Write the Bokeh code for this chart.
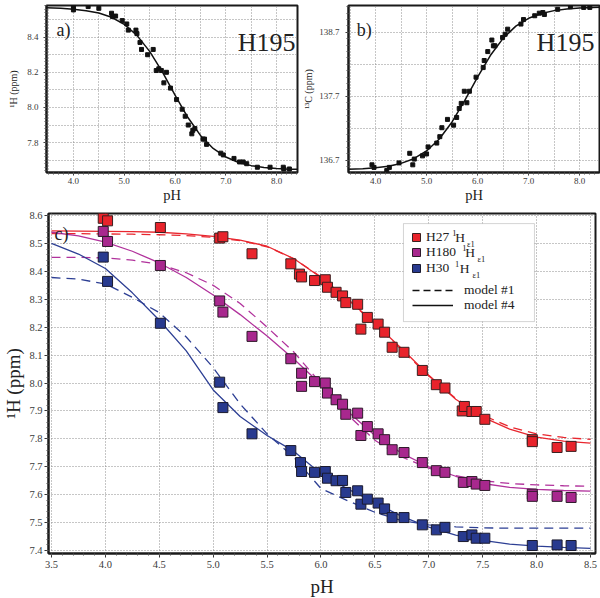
from bokeh.plotting import figure
from bokeh.layouts import column, row
from bokeh.models import (Range1d, FixedTicker, PrintfTickFormatter, Label, Legend,
                          LegendItem, BoxAnnotation)
from bokeh.core.properties import value
from bokeh.embed import file_html
from bokeh.resources import INLINE

FONT = "Liberation Serif"
NAN = float("nan")

# ---------------- panel a) H195 1H ----------------
ph_a = [4.00, 4.00, 4.29, 4.50, 4.75, 4.77, 4.83, 4.96, 5.05, 5.08, 5.23, 5.25, 5.31, 5.34, 5.46,
        5.57, 5.63, 5.68, 5.73, 5.78, 5.83, 5.91, 6.03, 6.14, 6.20, 6.26, 6.33, 6.35, 6.39, 6.55,
        6.58, 6.62, 6.90, 6.95, 7.16, 7.27, 7.34, 7.41, 7.62, 7.87, 8.13, 8.14, 8.25]
h_a = [8.570, 8.555, 8.574, 8.564, 8.536, 8.517, 8.520, 8.494, 8.475, 8.440, 8.440, 8.420, 8.370,
       8.330, 8.300, 8.330, 8.210, 8.220, 8.210, 8.140, 8.200, 8.110, 8.045, 7.990, 7.950, 7.900,
       7.850, 7.870, 7.880, 7.820, 7.820, 7.790, 7.740, 7.730, 7.710, 7.690, 7.690, 7.680, 7.660,
       7.660, 7.660, 7.650, 7.650]
fit_ph_ab = [3.45, 3.75, 4.0, 4.25, 4.5, 4.75, 5.0, 5.25, 5.5, 5.75, 6.0, 6.25, 6.5, 6.75, 7.0,
             7.25, 7.5, 7.75, 8.0, 8.25, 8.45]
fit_a = [8.567, 8.564, 8.559, 8.550, 8.537, 8.513, 8.473, 8.410, 8.319, 8.202, 8.070, 7.944,
         7.841, 7.767, 7.718, 7.687, 7.669, 7.659, 7.653, 7.649, 7.648]

# ---------------- panel b) H195 13C ----------------
ph_b = [3.93, 3.97, 4.22, 4.27, 4.46, 4.67, 4.73, 4.76, 4.92, 5.00, 5.03, 5.20, 5.26, 5.30, 5.41,
        5.53, 5.59, 5.64, 5.68, 5.74, 5.79, 5.84, 5.97, 6.11, 6.13, 6.20, 6.28, 6.31, 6.34, 6.49,
        6.54, 6.59, 6.85, 6.90, 7.12, 7.21, 7.28, 7.31, 7.57, 7.82, 8.08, 8.20]
c_b = [136.63, 136.59, 136.54, 136.59, 136.66, 136.81, 136.63, 136.72, 136.77, 136.80, 136.91,
       136.97, 137.07, 137.21, 137.34, 137.25, 137.37, 137.51, 137.59, 137.78, 137.60, 137.78,
       138.00, 138.15, 138.26, 138.40, 138.58, 138.49, 138.49, 138.62, 138.67, 138.75, 138.83,
       138.90, 138.96, 139.00, 139.01, 138.98, 139.06, 139.10, 139.09, 139.09]
fit_b = [136.559, 136.569, 136.583, 136.608, 136.652, 136.726, 136.847, 137.034, 137.300,
         137.636, 138.000, 138.338, 138.607, 138.797, 138.920, 138.995, 139.040, 139.066,
         139.081, 139.089, 139.093]

# ---------------- panel c) three histidines ----------------
ph_h27 = [3.98, 4.02, 4.51, 5.06, 5.09, 5.36, 5.72, 5.80, 5.82, 5.94, 6.04, 6.06, 6.14, 6.20,
          6.23, 6.34, 6.37, 6.43, 6.53, 6.59, 6.66, 6.77, 6.94, 7.07, 7.15, 7.31, 7.33, 7.40,
          7.44, 7.52, 7.96, 7.96, 8.19, 8.32]
h27 = [8.590, 8.581, 8.557, 8.519, 8.524, 8.463, 8.427, 8.390, 8.380, 8.367, 8.370, 8.343, 8.325,
       8.312, 8.288, 8.282, 8.193, 8.235, 8.211, 8.182, 8.128, 8.110, 8.045, 7.994, 7.982, 7.900,
       7.916, 7.898, 7.898, 7.870, 7.797, 7.790, 7.769, 7.773]
ph_h180 = [3.98, 4.02, 4.51, 5.06, 5.09, 5.36, 5.72, 5.82, 5.82, 5.94, 6.04, 6.06, 6.14, 6.20,
           6.23, 6.34, 6.37, 6.43, 6.53, 6.59, 6.66, 6.77, 6.94, 7.07, 7.15, 7.32, 7.40, 7.44,
           7.52, 7.96, 7.96, 8.19, 8.32]
h180 = [8.543, 8.507, 8.421, 8.294, 8.254, 8.167, 8.087, 8.035, 7.988, 8.005, 8.000, 7.964,
        7.940, 7.924, 7.888, 7.892, 7.812, 7.844, 7.818, 7.797, 7.761, 7.751, 7.715, 7.686,
        7.680, 7.644, 7.647, 7.638, 7.633, 7.602, 7.594, 7.594, 7.590]
ph_h30 = [3.98, 4.02, 4.51, 5.06, 5.09, 5.36, 5.72, 5.81, 5.82, 5.94, 6.04, 6.06, 6.14, 6.20,
          6.23, 6.34, 6.37, 6.43, 6.53, 6.59, 6.66, 6.77, 6.94, 7.07, 7.15, 7.32, 7.40, 7.44,
          7.52, 7.96, 8.19, 8.32]
h30 = [8.451, 8.364, 8.214, 8.003, 7.912, 7.818, 7.758, 7.715, 7.683, 7.680, 7.683, 7.659, 7.650,
       7.651, 7.608, 7.614, 7.566, 7.584, 7.570, 7.549, 7.518, 7.518, 7.492, 7.474, 7.483, 7.450,
       7.456, 7.444, 7.444, 7.418, 7.420, 7.418]

fit_ph_c = [3.5, 3.75, 4.0, 4.25, 4.5, 4.75, 5.0, 5.25, 5.5, 5.75, 6.0, 6.25, 6.5, 6.75, 7.0,
            7.25, 7.5, 7.75, 8.0, 8.25, 8.5]
h27_m4 = [8.545, 8.544, 8.543, 8.542, 8.540, 8.534, 8.525, 8.512, 8.490, 8.445, 8.378, 8.300,
          8.213, 8.123, 8.028, 7.942, 7.878, 7.835, 7.806, 7.792, 7.785]
h27_m1 = [8.535, 8.535, 8.534, 8.533, 8.531, 8.528, 8.522, 8.510, 8.488, 8.445, 8.380, 8.300,
          8.210, 8.118, 8.025, 7.945, 7.885, 7.843, 7.818, 7.805, 7.798]
h180_m4 = [8.540, 8.527, 8.505, 8.472, 8.430, 8.378, 8.315, 8.245, 8.168, 8.085, 7.995, 7.898,
           7.812, 7.748, 7.700, 7.666, 7.640, 7.626, 7.619, 7.615, 7.613]
h180_m1 = [8.450, 8.450, 8.448, 8.440, 8.425, 8.395, 8.350, 8.285, 8.200, 8.110, 7.998, 7.885,
           7.795, 7.735, 7.695, 7.668, 7.650, 7.640, 7.635, 7.632, 7.630]
h30_m4 = [8.500, 8.462, 8.410, 8.323, 8.225, 8.115, 7.975, 7.880, 7.812, 7.755, 7.675, 7.620,
          7.572, 7.522, 7.484, 7.455, 7.436, 7.423, 7.416, 7.411, 7.408]
h30_m1 = [8.378, 8.372, 8.355, 8.307, 8.252, 8.165, 8.055, 7.925, 7.818, 7.733, 7.622, 7.578,
          7.537, 7.507, 7.492, 7.485, 7.481, 7.480, 7.480, 7.480, 7.480]

# ticks
xt_ab = [4.0, 5.0, 6.0, 7.0, 8.0]
xgrid_ab = [3.5, 4.0, 4.5, 5.0, 5.5, 6.0, 6.5, 7.0, 7.5, 8.0]
yt_a = [7.8, 8.0, 8.2, 8.4]
ygrid_a = [7.7, 7.8, 7.9, 8.0, 8.1, 8.2, 8.3, 8.4, 8.5]
yt_b = [136.7, 137.7, 138.7]
ygrid_b = [136.7, 137.2, 137.7, 138.2, 138.7]
xt_c = [3.5, 4.0, 4.5, 5.0, 5.5, 6.0, 6.5, 7.0, 7.5, 8.0, 8.5]
yt_c = [7.4, 7.5, 7.6, 7.7, 7.8, 7.9, 8.0, 8.1, 8.2, 8.3, 8.4, 8.5, 8.6]

legend_labels = ["H27", "H180", "H30"]
legend_sup = "1"
legend_nuc = "H"
legend_sub = "\u03b51"
model_labels = ["model #1", "model #4"]

RED, MAG, BLUE = "#e8232b", "#a8288e", "#283a8f"
RED_L, MAG_L, BLUE_L = "#e8262e", "#b1329c", "#2d3f94"


def minor(lo, hi, step):
    n = int(round((hi - lo) / step))
    return [round(lo + i * step, 3) for i in range(n + 1)]


def style(p, xt, xmin, xg, yt, ymin, yg, tick_fs, xl_fs, yl_fs, xstand, ystand, xls, yls, tick_out):
    p.xaxis.ticker = FixedTicker(ticks=xt, minor_ticks=xmin)
    p.yaxis.ticker = FixedTicker(ticks=yt, minor_ticks=ymin)
    p.xgrid.ticker = FixedTicker(ticks=xg)
    p.ygrid.ticker = FixedTicker(ticks=yg)
    p.xaxis.formatter = PrintfTickFormatter(format="%.1f")
    p.yaxis.formatter = PrintfTickFormatter(format="%.1f")
    for g in (p.xgrid[0], p.ygrid[0]):
        g.grid_line_color = "#8c8c8c"
        g.grid_line_dash = "1 2"
        g.grid_line_width = 1
    for ax, fs, st, ls in ((p.xaxis[0], xl_fs, xstand, xls), (p.yaxis[0], yl_fs, ystand, yls)):
        ax.axis_line_color = "#1a1a1a"
        ax.axis_line_width = 2
        ax.major_tick_line_color = "#333333"
        ax.minor_tick_line_color = "#555555"
        ax.major_tick_in = 0
        ax.major_tick_out = tick_out
        ax.minor_tick_in = 0
        ax.minor_tick_out = 2
        ax.major_label_text_font = FONT
        ax.major_label_text_font_size = tick_fs
        ax.major_label_text_color = "#3a3a3a"
        ax.major_label_standoff = st
        ax.axis_label_text_font = FONT
        ax.axis_label_text_font_style = "normal"
        ax.axis_label_text_font_size = fs
        ax.axis_label_text_color = "#222222"
        ax.axis_label_standoff = ls
    p.outline_line_color = "#1a1a1a"
    p.outline_line_width = 2
    p.background_fill_color = "white"


# ---------- figure a ----------
pa = figure(frame_width=251, frame_height=167, x_range=Range1d(3.47, 8.41),
            y_range=Range1d(7.63, 8.58), output_backend="svg", toolbar_location=None,
            min_border_left=46, min_border_right=3, min_border_top=5, min_border_bottom=32,
            x_axis_label="pH", y_axis_label="\u00b9H (ppm)")
style(pa, xt_ab, minor(3.5, 8.4, 0.1), xgrid_ab, yt_a, minor(7.64, 8.58, 0.02), ygrid_a,
      "9px", "14.5px", "10px", 2, 5, 0, 5, 3)
pa.line(fit_ph_ab, fit_a, line_color="#111111", line_width=1.5)
pa.scatter(ph_a, h_a, marker="square", size=4, fill_color="#111111", line_color="#111111")
pa.add_layout(Label(x=3.667, y=8.44, text="a)", text_font=FONT, text_font_size="18px",
                    text_color="#222222", text_baseline="alphabetic"))
pa.add_layout(Label(x=8.37, y=8.372, text="H195", text_font=FONT, text_font_size="26px",
                    text_color="#222222", text_align="right", text_baseline="alphabetic"))

# ---------- figure b ----------
pb = figure(frame_width=251, frame_height=167, x_range=Range1d(3.47, 8.39),
            y_range=Range1d(136.51, 139.12), output_backend="svg", toolbar_location=None,
            min_border_left=45, min_border_right=4, min_border_top=5, min_border_bottom=32,
            x_axis_label="pH", y_axis_label="\u00b9\u00b3C (ppm)")
style(pb, xt_ab, minor(3.5, 8.3, 0.1), xgrid_ab, yt_b, minor(136.6, 139.1, 0.1), ygrid_b,
      "9px", "14.5px", "10px", 2, 6, 0, 2, 3)
pb.line(fit_ph_ab, fit_b, line_color="#111111", line_width=1.5)
pb.scatter(ph_b, c_b, marker="square", size=4, fill_color="#111111", line_color="#111111")
pb.add_layout(Label(x=3.63, y=138.73, text="b)", text_font=FONT, text_font_size="18px",
                    text_color="#222222", text_baseline="alphabetic"))
pb.add_layout(Label(x=8.29, y=138.54, text="H195", text_font=FONT, text_font_size="26px",
                    text_color="#222222", text_align="right", text_baseline="alphabetic"))

# ---------- figure c ----------
pc = figure(frame_width=547, frame_height=340, x_range=Range1d(3.4722, 8.5464),
            y_range=Range1d(7.3893, 8.6072), output_backend="svg", toolbar_location=None,
            min_border_left=47, min_border_right=6, min_border_top=8, min_border_bottom=46,
            x_axis_label="pH", y_axis_label="\u00b9H (ppm)")
style(pc, xt_c, minor(3.5, 8.5, 0.1), xt_c, yt_c, minor(7.4, 8.6, 0.02), yt_c,
      "10.5px", "19px", "19px", 3, 2, 5, 2, 4)

DASH = "9 6"
pc.line(fit_ph_c, h27_m1, line_color=RED_L, line_width=1.3, line_dash=DASH)
pc.line(fit_ph_c, h180_m1, line_color=MAG_L, line_width=1.3, line_dash=DASH)
pc.line(fit_ph_c, h30_m1, line_color=BLUE_L, line_width=1.3, line_dash=DASH)
pc.line(fit_ph_c, h27_m4, line_color=RED_L, line_width=1.3)
pc.line(fit_ph_c, h180_m4, line_color=MAG_L, line_width=1.3)
pc.line(fit_ph_c, h30_m4, line_color=BLUE_L, line_width=1.3)

r27 = pc.scatter(ph_h27, h27, marker="square", size=10, fill_color=RED, line_color="#3a2020",
                 line_width=1)
r180 = pc.scatter(ph_h180, h180, marker="square", size=10, fill_color=MAG, line_color="#2e1a2a",
                  line_width=1)
r30 = pc.scatter(ph_h30, h30, marker="square", size=10, fill_color=BLUE, line_color="#1a1a2e",
                 line_width=1)

# legend-only sample lines (hold no drawable data)
rm1 = pc.line(x=[NAN], y=[NAN], line_color="#111111", line_width=1.3, line_dash="7 4")
rm4 = pc.line(x=[NAN], y=[NAN], line_color="#111111", line_width=1.3)

pc.add_layout(Label(x=3.528, y=8.532, text="c)", text_font=FONT, text_font_size="18px",
                    text_color="#222222", text_baseline="alphabetic"))

# legend frame
pc.add_layout(BoxAnnotation(left=6.765, right=7.98, top=8.571, bottom=8.22,
                            fill_color="white", fill_alpha=1.0, line_color="#6f6f6f",
                            line_width=1))


def one_row(label, rend, loc, gw, gh, standoff):
    return Legend(items=[LegendItem(label=value(label), renderers=[rend])],
                  location=loc, glyph_width=gw, glyph_height=gh, label_height=gh,
                  spacing=0, padding=0, margin=0, label_standoff=standoff,
                  border_line_alpha=0, background_fill_alpha=0,
                  label_text_font=FONT, label_text_font_size="13.5px",
                  label_text_color="#222222")


pc.add_layout(one_row(legend_labels[0], r27, (358, 306), 20, 20, 0))
pc.add_layout(one_row(legend_labels[1], r180, (358, 291), 20, 20, 0))
pc.add_layout(one_row(legend_labels[2], r30, (358, 275), 20, 20, 0))
pc.add_layout(one_row(model_labels[0], rm1, (364, 255), 41, 16, 11))
pc.add_layout(one_row(model_labels[1], rm4, (364, 240), 41, 16, 11))

# "¹H_ε1" pieces after each legend label (layout positions in data units)
row_mid = [8.5212, 8.4675, 8.4102]
sup_x = [7.2180, 7.3100, 7.2430]
nuc_x = [7.2450, 7.3370, 7.2876]
sub_x = [7.3540, 7.4510, 7.4054]
for ym, xs, xn, xb in zip(row_mid, sup_x, nuc_x, sub_x):
    pc.add_layout(Label(x=xs, y=ym + 0.016, text=legend_sup, text_font=FONT,
                        text_font_size="8.5px", text_color="#222222", text_baseline="middle"))
    pc.add_layout(Label(x=xn, y=ym, text=legend_nuc, text_font=FONT,
                        text_font_size="13.5px", text_color="#222222", text_baseline="middle"))
    pc.add_layout(Label(x=xb, y=ym - 0.025, text=legend_sub, text_font=FONT,
                        text_font_size="8.5px", text_color="#222222", text_baseline="middle"))

layout = column(row(pa, pb), pc)
open("out.html", "w").write(file_html(layout, INLINE))
